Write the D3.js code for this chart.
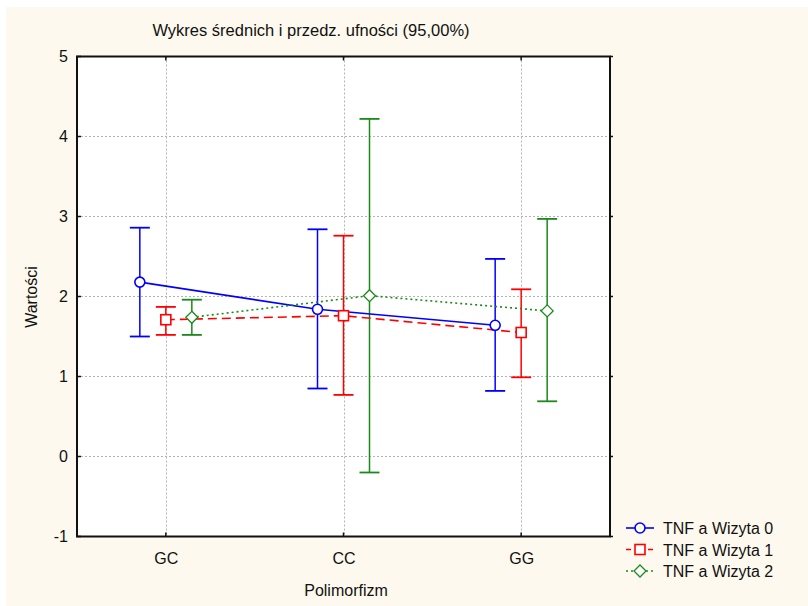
<!DOCTYPE html>
<html><head><meta charset="utf-8">
<script src="https://cdn.jsdelivr.net/npm/d3@7/dist/d3.min.js"></script>
<style>body{margin:0;background:#fff;} svg{display:block;} text{font-family:"Liberation Sans",Arial,sans-serif;fill:#111;}</style>
</head><body>
<script>
const categories = ["GC", "CC", "GG"];
const seriesNames = ["TNF a Wizyta 0", "TNF a Wizyta 1", "TNF a Wizyta 2"];
const means0 = [2.18, 1.84, 1.64];
const upper0 = [2.86, 2.84, 2.47];
const lower0 = [1.50, 0.85, 0.82];
const means1 = [1.71, 1.76, 1.55];
const upper1 = [1.87, 2.76, 2.09];
const lower1 = [1.52, 0.77, 0.99];
const means2 = [1.74, 2.01, 1.82];
const upper2 = [1.96, 4.22, 2.97];
const lower2 = [1.52, -0.20, 0.69];
const yTicks = [-1, 0, 1, 2, 3, 4, 5];

const colors = ["#0000ff", "#ff0000", "#1a8a1a"];
const dashes = [null, "9,5", "2,3"];
const markers = ["circle", "square", "diamond"];
const series = [
  {name: seriesNames[0], mean: means0, up: upper0, lo: lower0},
  {name: seriesNames[1], mean: means1, up: upper1, lo: lower1},
  {name: seriesNames[2], mean: means2, up: upper2, lo: lower2}
];

const W = 808, H = 606;
const L = 77, R = 610, T = 56.5, B = 536.5;
const svg = d3.select("body").append("svg").attr("width", W).attr("height", H);
svg.append("rect").attr("x", 6).attr("y", 7).attr("width", W - 6).attr("height", H - 7).attr("fill", "#fef9ee");
svg.append("rect").attr("x", L).attr("y", T).attr("width", R - L).attr("height", B - T).attr("fill", "#fff");

const x = d3.scalePoint().domain(categories).range([L, R]).padding(0.5);
const y = d3.scaleLinear().domain([-1, 5]).range([B, T]);
const off = [-26, 0, 26];

// grid
const g = svg.append("g");
g.selectAll("line.hg").data(yTicks.slice(1, -1)).enter().append("line")
  .attr("x1", L).attr("x2", R).attr("y1", d => y(d)).attr("y2", d => y(d))
  .attr("stroke", "#b4b4b4").attr("stroke-dasharray", "2,2").attr("stroke-width", 1);
g.selectAll("line.vg").data(categories).enter().append("line")
  .attr("x1", d => Math.round(x(d)) + 0.5).attr("x2", d => Math.round(x(d)) + 0.5).attr("y1", T).attr("y2", B)
  .attr("stroke", "#b4b4b4").attr("stroke-dasharray", "2,2").attr("stroke-width", 1);

// axes
const yAxis = d3.axisLeft(y).tickValues(yTicks).tickSize(0).tickPadding(9).tickFormat(d => String(d));
const ya = svg.append("g").attr("transform", `translate(${L},0)`).call(yAxis);
ya.select(".domain").remove();
ya.selectAll("text").style("font-size", "16px").attr("fill", "#111");
const xAxis = d3.axisBottom(x).tickSize(0).tickPadding(16);
const xa = svg.append("g").attr("transform", `translate(0,${B})`).call(xAxis);
xa.select(".domain").remove();
xa.selectAll("text").style("font-size", "16px").attr("fill", "#111");

// tick marks inside frame
svg.selectAll("line.lt").data(yTicks).enter().append("line")
  .attr("x1", L).attr("x2", L + 4).attr("y1", d => y(d)).attr("y2", d => y(d)).attr("stroke", "#111").attr("stroke-width", 1.5);
svg.selectAll("line.rt").data(yTicks).enter().append("line")
  .attr("x1", R).attr("x2", R + 3).attr("y1", d => y(d)).attr("y2", d => y(d)).attr("stroke", "#111").attr("stroke-width", 1.5);
svg.selectAll("line.bt").data(categories).enter().append("line")
  .attr("x1", d => x(d)).attr("x2", d => x(d)).attr("y1", B).attr("y2", B - 4).attr("stroke", "#111").attr("stroke-width", 1.5);
svg.selectAll("line.tt").data(categories).enter().append("line")
  .attr("x1", d => x(d)).attr("x2", d => x(d)).attr("y1", T).attr("y2", T + 4).attr("stroke", "#111").attr("stroke-width", 1.5);

// series
function drawMarker(sel, type, color, cx, cy) {
  if (type === "circle") sel.append("circle").attr("cx", cx).attr("cy", cy).attr("r", 5).attr("fill", "#fff").attr("stroke", color).attr("stroke-width", 1.6);
  else if (type === "square") sel.append("rect").attr("x", cx - 5).attr("y", cy - 5).attr("width", 10).attr("height", 10).attr("fill", "#fff").attr("stroke", color).attr("stroke-width", 1.6);
  else sel.append("path").attr("d", `M${cx},${cy - 6}L${cx + 6},${cy}L${cx},${cy + 6}L${cx - 6},${cy}Z`).attr("fill", "#fff").attr("stroke", color).attr("stroke-width", 1.3);
}

series.forEach((s, si) => {
  const sg = svg.append("g");
  const px = i => x(categories[i]) + off[si];
  categories.forEach((c, i) => {
    sg.append("line").attr("x1", px(i)).attr("x2", px(i)).attr("y1", y(s.up[i])).attr("y2", y(s.lo[i])).attr("stroke", colors[si]).attr("stroke-width", 1.5);
    [s.up[i], s.lo[i]].forEach(v => {
      sg.append("line").attr("x1", px(i) - 10).attr("x2", px(i) + 10).attr("y1", y(v)).attr("y2", y(v)).attr("stroke", colors[si]).attr("stroke-width", 1.8);
    });
  });
});
series.forEach((s, si) => {
  const px = i => x(categories[i]) + off[si];
  const line = d3.line().x((d, i) => px(i)).y(d => y(d));
  svg.append("path").attr("d", line(s.mean)).attr("fill", "none").attr("stroke", colors[si]).attr("stroke-width", 1.6)
    .attr("stroke-dasharray", dashes[si]);
});
series.forEach((s, si) => {
  const sg = svg.append("g");
  s.mean.forEach((m, i) => drawMarker(sg, markers[si], colors[si], x(categories[i]) + off[si], y(m)));
});

// frame
svg.append("rect").attr("x", L).attr("y", T).attr("width", R - L).attr("height", B - T).attr("fill", "none").attr("stroke", "#111").attr("stroke-width", 2);

// titles
svg.append("text").attr("x", 311).attr("y", 36).attr("text-anchor", "middle").style("font-size", "16.5px").text("Wykres średnich i przedz. ufności (95,00%)");
svg.append("text").attr("x", 346).attr("y", 596).attr("text-anchor", "middle").style("font-size", "16px").text("Polimorfizm");
svg.append("text").attr("transform", "translate(37,297) rotate(-90)").attr("text-anchor", "middle").style("font-size", "16px").text("Wartości");

// legend
const lg = svg.append("g");
seriesNames.forEach((n, i) => {
  const ly = 528 + i * 21.5;
  lg.append("line").attr("x1", 626).attr("x2", 654).attr("y1", ly).attr("y2", ly).attr("stroke", colors[i]).attr("stroke-width", 1.6).attr("stroke-dasharray", dashes[i] ? (i === 1 ? "5,6" : "2,3") : null);
  drawMarker(lg, markers[i], colors[i], 640, ly);
  lg.append("text").attr("x", 663).attr("y", ly + 6).style("font-size", "16px").text(n);
});
</script>
</body></html>
